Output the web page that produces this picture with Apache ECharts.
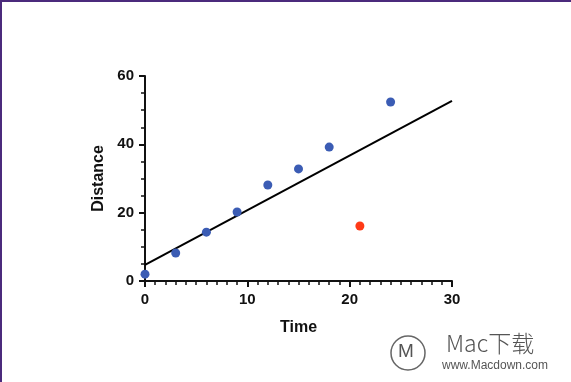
<!DOCTYPE html>
<html><head><meta charset="utf-8">
<script src="https://cdn.jsdelivr.net/npm/echarts@6/dist/echarts.min.js"></script>
<style>
html,body{margin:0;padding:0;background:#fff;}
#frame{position:absolute;left:0;top:0;width:571px;height:382px;box-sizing:border-box;border-top:2px solid #4b2a7c;border-left:2px solid #4b2a7c;}
#c{position:absolute;left:0;top:0;width:571px;height:382px;}
</style></head>
<body>
<div id="c"></div>
<div id="frame"></div>
<script>
const timeBlue = [0, 3, 6, 9, 12, 15, 18, 24];
const distBlue = [2.0, 8.2, 14.3, 20.2, 28.1, 32.8, 39.2, 52.4];
const timeRed = [21];
const distRed = [16.1];
const fitX = [0, 30];
const fitY = [4.7, 52.7];

const chart = echarts.init(document.getElementById('c'));
const font = '"Liberation Sans", Arial, sans-serif';
chart.setOption({
  animation: false,
  grid: {left: 145, right: 119, top: 76, bottom: 101},
  xAxis: {
    type: 'value', min: 0, max: 30, interval: 10,
    name: 'Time', nameLocation: 'middle', nameGap: 39,
    nameTextStyle: {fontFamily: font, fontWeight: 'bold', fontSize: 16, color: '#111'},
    axisLine: {show: true, onZero: false, lineStyle: {color: '#111', width: 2}},
    axisTick: {show: true, length: 6, lineStyle: {color: '#111', width: 2}},
    minorTick: {show: true, splitNumber: 10, length: 4, lineStyle: {color: '#111', width: 1.5}},
    axisLabel: {fontFamily: font, fontWeight: 'bold', fontSize: 15, color: '#111', margin: 11},
    splitLine: {show: false}
  },
  yAxis: {
    type: 'value', min: 0, max: 60, interval: 20,
    name: 'Distance', nameLocation: 'middle', nameGap: 37,
    nameTextStyle: {fontFamily: font, fontWeight: 'bold', fontSize: 16, color: '#111'},
    axisLine: {show: true, onZero: false, lineStyle: {color: '#111', width: 2}},
    axisTick: {show: true, length: 6, lineStyle: {color: '#111', width: 2}},
    minorTick: {show: true, splitNumber: 4, length: 4, lineStyle: {color: '#111', width: 1.5}},
    axisLabel: {fontFamily: font, fontWeight: 'bold', fontSize: 15, color: '#111', margin: 11},
    splitLine: {show: false}
  },
  series: [
    {
      type: 'line', data: fitX.map((x, i) => [x, fitY[i]]),
      showSymbol: false, symbol: 'none', lineStyle: {color: '#000', width: 2}, z: 2
    },
    {
      type: 'scatter', data: timeBlue.map((x, i) => [x, distBlue[i]]),
      symbolSize: 9, itemStyle: {color: '#3b5cb4', opacity: 1}, z: 3
    },
    {
      type: 'scatter', data: timeRed.map((x, i) => [x, distRed[i]]),
      symbolSize: 9, itemStyle: {color: '#ff3a17', opacity: 1}, z: 3
    }
  ],
  graphic: [
    {type: 'circle', shape: {cx: 408, cy: 353, r: 17}, style: {fill: 'none', stroke: '#666', lineWidth: 1.5}},
    {type: 'text', left: 398, top: 342, style: {text: 'M', fontFamily: font, fontSize: 19, fill: '#555'}},
    {type: 'text', left: 446, top: 332, style: {text: 'Mac下载', fontFamily: '"Noto Sans CJK SC", sans-serif', fontWeight: 300, fontSize: 23, fill: '#555'}},
    {type: 'text', left: 442, top: 360, style: {text: 'www.Macdown.com', fontFamily: font, fontSize: 12, fill: '#555'}}
  ]
});
</script>
</body></html>
